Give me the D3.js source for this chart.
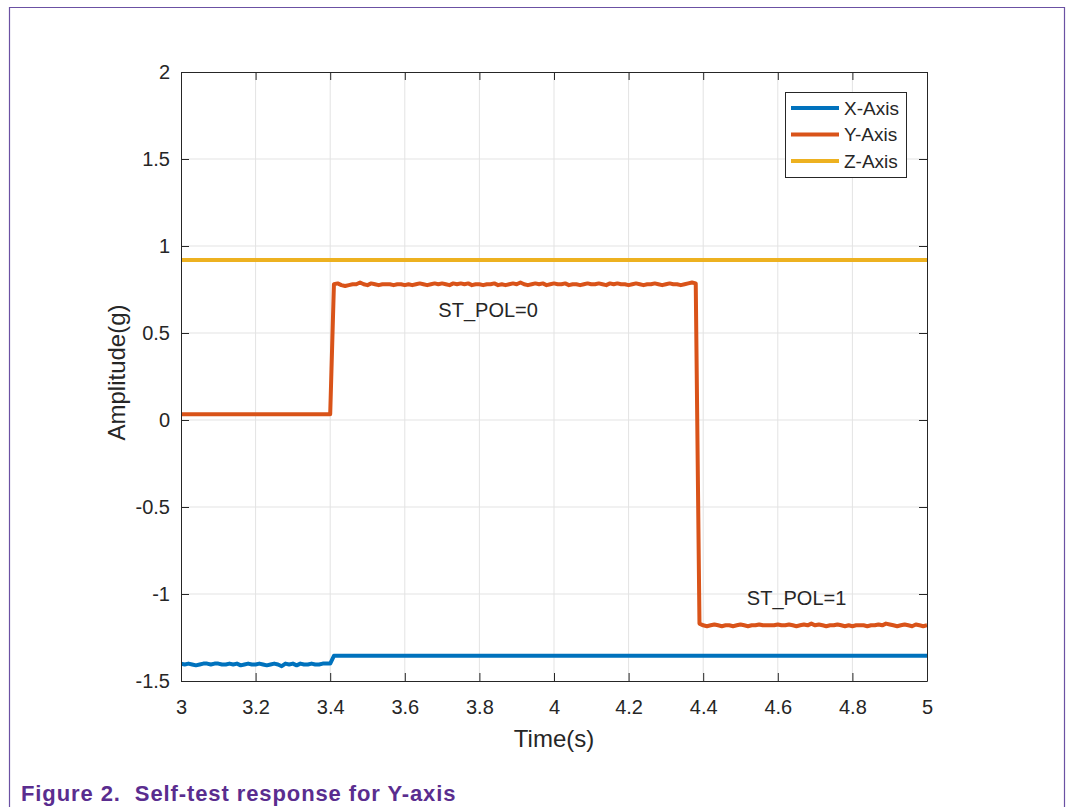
<!DOCTYPE html>
<html>
<head>
<meta charset="utf-8">
<script src="https://cdn.jsdelivr.net/npm/d3@7"></script>
<style>
  body { margin: 0; background: #fff; }
  text { font-family: "Liberation Sans", Arial, sans-serif; fill: #262626; }
</style>
</head>
<body>
<svg id="chart"></svg>
<script>
// sampled every 10 ms
const dt = 0.01

// X-Axis: noisy before self-test, flat after
const xAxisEarlyStart = 3.0
const xAxisEarly = [
  -1.40, -1.405, -1.40, -1.405, -1.41, -1.405, -1.40, -1.40, -1.405, -1.40,
  -1.40, -1.405, -1.405, -1.40, -1.405, -1.40, -1.41, -1.405, -1.40, -1.405,
  -1.405, -1.40, -1.405, -1.41, -1.405, -1.40, -1.405, -1.415, -1.40, -1.405,
  -1.40, -1.41, -1.40, -1.405, -1.405, -1.40, -1.405, -1.405, -1.40, -1.40,
  -1.40
]
const xAxisLateSpan = [3.41, 5.0]
const xAxisLate = -1.355

// Y-Axis: flat, then ST_POL=0 level, then ST_POL=1 level
const yAxisEarlySpan = [3.0, 3.40]
const yAxisEarly = 0.033
const yAxisHighStart = 3.41
const yAxisHigh = [
  0.78, 0.785, 0.775, 0.77, 0.775, 0.78, 0.78, 0.79, 0.78, 0.775,
  0.785, 0.78, 0.775, 0.78, 0.78, 0.78, 0.775, 0.78, 0.78, 0.775,
  0.78, 0.775, 0.78, 0.785, 0.78, 0.775, 0.78, 0.785, 0.78, 0.785,
  0.78, 0.775, 0.785, 0.78, 0.785, 0.78, 0.785, 0.775, 0.78, 0.78,
  0.775, 0.78, 0.78, 0.785, 0.775, 0.78, 0.775, 0.78, 0.785, 0.78,
  0.79, 0.78, 0.775, 0.78, 0.785, 0.78, 0.785, 0.775, 0.78, 0.785,
  0.78, 0.78, 0.785, 0.775, 0.78, 0.78, 0.775, 0.78, 0.785, 0.78,
  0.78, 0.785, 0.78, 0.775, 0.785, 0.78, 0.785, 0.78, 0.78, 0.775,
  0.78, 0.785, 0.78, 0.775, 0.78, 0.78, 0.785, 0.78, 0.775, 0.78,
  0.785, 0.78, 0.78, 0.775, 0.78, 0.785, 0.79, 0.785
]
const yAxisLowStart = 4.39
const yAxisLow = [
  -1.17, -1.18, -1.185, -1.18, -1.175, -1.18, -1.185, -1.18, -1.18, -1.185,
  -1.18, -1.175, -1.18, -1.185, -1.18, -1.18, -1.175, -1.18, -1.18, -1.18,
  -1.18, -1.175, -1.18, -1.18, -1.175, -1.18, -1.185, -1.18, -1.175, -1.18,
  -1.17, -1.18, -1.175, -1.18, -1.185, -1.18, -1.18, -1.175, -1.18, -1.185,
  -1.18, -1.185, -1.18, -1.18, -1.18, -1.185, -1.18, -1.18, -1.175, -1.18,
  -1.17, -1.175, -1.18, -1.185, -1.18, -1.175, -1.18, -1.185, -1.175, -1.18,
  -1.185, -1.18
]

// Z-Axis: constant gravity
const zAxisSpan = [3.0, 5.0]
const zAxis = 0.92

const xTicks = [3, 3.2, 3.4, 3.6, 3.8, 4, 4.2, 4.4, 4.6, 4.8, 5]
const yTicks = [-1.5, -1, -0.5, 0, 0.5, 1, 1.5, 2]

const seriesNames = ['X-Axis', 'Y-Axis', 'Z-Axis']
const seriesColors = ['#0072BD', '#D95319', '#EDB120']

const notes = [
  { text: 'ST_POL=0', t: 3.69, v: 0.635 },
  { text: 'ST_POL=1', t: 4.517, v: -1.023 }
]

// build point lists
let xPts = xAxisEarly.map((v, i) => [xAxisEarlyStart + i * dt, v])
  .concat(xAxisLateSpan.map(t => [t, xAxisLate]))
let yPts = yAxisEarlySpan.map(t => [t, yAxisEarly])
  .concat(yAxisHigh.map((v, i) => [yAxisHighStart + i * dt, v]))
  .concat(yAxisLow.map((v, i) => [yAxisLowStart + i * dt, v]))
let zPts = zAxisSpan.map(t => [t, zAxis])
let allSeries = [xPts, yPts, zPts]

let width = 1066
let height = 807
let margin = { left: 181, right: 139, top: 72, bottom: 126 }
let plotW = width - margin.left - margin.right
let plotH = height - margin.top - margin.bottom

let svg = d3.select('#chart')
  .attr('width', width)
  .attr('height', height)

// page frame
svg.append('path')
  .attr('d', 'M9.5,807 V7.5 H1064.5 V807')
  .attr('fill', 'none')
  .attr('stroke', '#6b51a3')
  .attr('stroke-width', 1.2)

let g = svg.append('g')
  .attr('transform', `translate(${margin.left}, ${margin.top})`)

let x = d3.scaleLinear().domain([3, 5]).range([0, plotW])
let y = d3.scaleLinear().domain([-1.5, 2]).range([plotH, 0])

// grid
g.append('g')
  .selectAll('line')
  .data(xTicks.slice(1, -1))
  .enter()
  .append('line')
  .attr('x1', d => x(d)).attr('x2', d => x(d))
  .attr('y1', 0).attr('y2', plotH)
  .attr('stroke', '#e3e3e3')
g.append('g')
  .selectAll('line')
  .data(yTicks.slice(1, -1))
  .enter()
  .append('line')
  .attr('y1', d => y(d)).attr('y2', d => y(d))
  .attr('x1', 0).attr('x2', plotW)
  .attr('stroke', '#e3e3e3')

// data lines
g.append('clipPath').attr('id', 'clip')
  .append('rect').attr('width', plotW).attr('height', plotH)

let line = d3.line()
  .x(d => x(d[0]))
  .y(d => y(d[1]))

g.append('g')
  .attr('clip-path', 'url(#clip)')
  .selectAll('path')
  .data(allSeries)
  .enter()
  .append('path')
  .attr('d', line)
  .attr('fill', 'none')
  .attr('stroke', (d, i) => seriesColors[i])
  .attr('stroke-width', 4)
  .attr('stroke-linejoin', 'round')

// axes with inward ticks
let fmt = d => String(d)
let styleAxis = sel => {
  sel.selectAll('path, line').attr('stroke', '#262626')
  sel.selectAll('text')
    .attr('fill', '#262626')
    .style('font-size', '20px')
    .style('font-family', '"Liberation Sans", Arial, sans-serif')
}

g.append('g')
  .attr('transform', `translate(0, ${plotH})`)
  .call(d3.axisBottom(x).tickValues(xTicks).tickFormat(fmt)
    .tickSizeInner(-8).tickSizeOuter(0).tickPadding(19))
  .call(styleAxis)
g.append('g')
  .call(d3.axisLeft(y).tickValues(yTicks).tickFormat(fmt)
    .tickSizeInner(-8).tickSizeOuter(0).tickPadding(11))
  .call(styleAxis)
g.append('g')
  .call(d3.axisTop(x).tickValues(xTicks).tickFormat('')
    .tickSizeInner(-8).tickSizeOuter(0))
  .call(styleAxis)
g.append('g')
  .attr('transform', `translate(${plotW}, 0)`)
  .call(d3.axisRight(y).tickValues(yTicks).tickFormat('')
    .tickSizeInner(-8).tickSizeOuter(0))
  .call(styleAxis)

// axis titles
g.append('text')
  .text('Time(s)')
  .attr('x', plotW / 2)
  .attr('y', plotH + 66)
  .style('text-anchor', 'middle')
  .style('font-size', '24px')
g.append('text')
  .text('Amplitude(g)')
  .attr('transform', `translate(-56, ${plotH / 2 - 4}) rotate(-90)`)
  .style('text-anchor', 'middle')
  .style('font-size', '24px')

// annotations
g.selectAll('.note')
  .data(notes)
  .enter()
  .append('text')
  .attr('class', 'note')
  .text(d => d.text)
  .attr('x', d => x(d.t))
  .attr('y', d => y(d.v))
  .attr('dy', '0.36em')
  .style('font-size', '20px')

// legend
let legend = g.append('g')
  .attr('transform', `translate(${plotW - 142}, 20)`)
legend.append('rect')
  .attr('x', 0.5).attr('y', 0.5)
  .attr('width', 121).attr('height', 85)
  .attr('fill', '#fff')
  .attr('stroke', '#262626')
let rows = legend.selectAll('.row')
  .data(seriesNames)
  .enter()
  .append('g')
  .attr('class', 'row')
  .attr('transform', (d, i) => `translate(0, ${16 + i * 26.5})`)
rows.append('line')
  .attr('x1', 6).attr('x2', 54)
  .attr('stroke', (d, i) => seriesColors[i])
  .attr('stroke-width', 4)
rows.append('text')
  .text(d => d)
  .attr('x', 59)
  .attr('dy', '0.36em')
  .style('font-size', '19px')

// caption
svg.append('text')
  .text('Figure 2.  Self-test response for Y-axis')
  .attr('x', 21)
  .attr('y', 801)
  .style('font-size', '22px')
  .style('font-weight', 'bold')
  .style('letter-spacing', '0.9px')
  .style('fill', '#5a2d8f')
  .style('white-space', 'pre')
</script>
</body>
</html>
